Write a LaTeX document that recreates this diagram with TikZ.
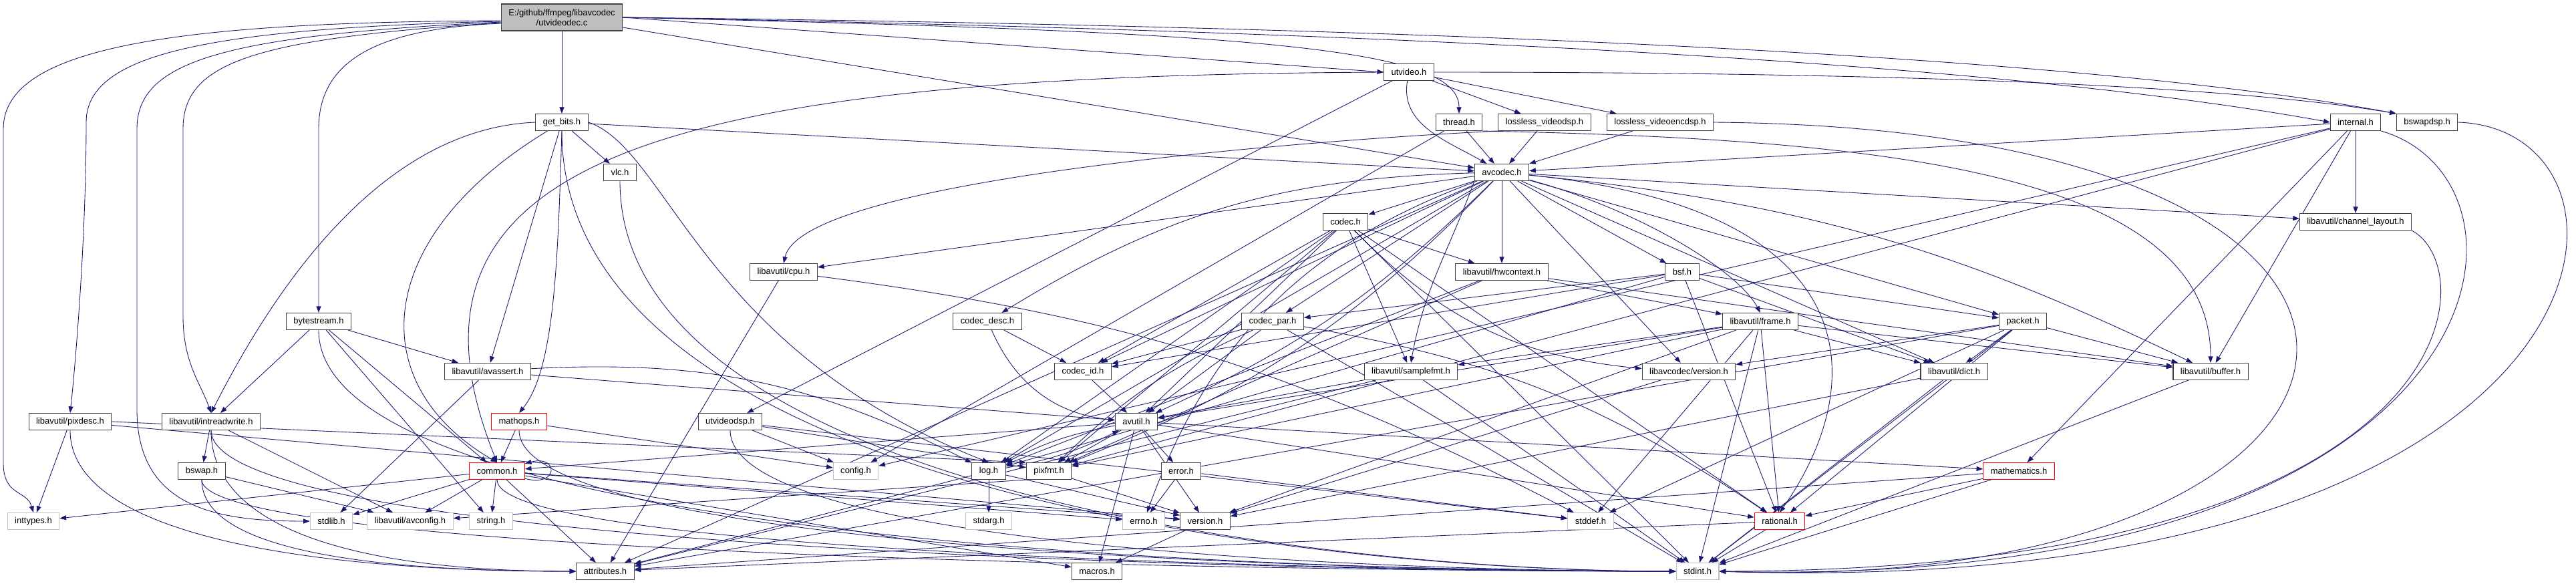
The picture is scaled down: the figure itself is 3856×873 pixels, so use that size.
\documentclass[tikz,border=0pt]{standalone}
\usepackage{fontspec}
\setmainfont{Liberation Sans}
\usepackage{tikz}
\usetikzlibrary{arrows.meta, backgrounds}
\definecolor{edgeblue}{RGB}{25,25,112}
\definecolor{boxgray}{RGB}{191,191,191}
\definecolor{boxline}{RGB}{64,64,64}

\begin{document}
\begin{tikzpicture}[
        x=0.02cm, y=0.02cm,
        box/.style={rectangle, draw=boxline, line width=0.6pt, fill=white, minimum height=0.5cm, inner xsep=0.22cm, inner ysep=0pt, font=\fontsize{7.4}{8.6}\selectfont},
        sysbox/.style={box, draw=boxgray},
        redbox/.style={box, draw=red},
        rootbox/.style={box, fill=boxgray, align=center, minimum height=0.8cm},
        arrow/.style={-{Triangle[length=5.5pt, width=4pt]}, draw=edgeblue, line width=0.5pt}
    ]
    \useasboundingbox (0,0) rectangle (3856,873);

    % files
    \node[rootbox] (utvideodec) at (841,847) {E:/github/ffmpeg/libavcodec\\/utvideodec.c};
    \node[box] (utvideo) at (2109,765) {utvideo.h};
    \node[box] (getbits) at (841,690) {get\_bits.h};
    \node[box] (thread) at (2184,690) {thread.h};
    \node[box] (llvidsp) at (2312,690) {lossless\_videodsp.h};
    \node[box] (llvidencdsp) at (2485,690) {lossless\_videoencdsp.h};
    \node[box] (internal) at (3526,690) {internal.h};
    \node[box] (bswapdsp) at (3633,690) {bswapdsp.h};
    \node[box] (vlc) at (928,615) {vlc.h};
    \node[box] (avcodec) at (2248,615) {avcodec.h};
    \node[box] (codec) at (2014,541) {codec.h};
    \node[box] (chlayout) at (3526,541) {libavutil/channel\_layout.h};
    \node[box] (cpu) at (1173,466) {libavutil/cpu.h};
    \node[box] (hwcontext) at (2248,466) {libavutil/hwcontext.h};
    \node[box] (bsf) at (2518,466) {bsf.h};
    \node[box] (bytestream) at (477,392) {bytestream.h};
    \node[box] (codecdesc) at (1478,392) {codec\_desc.h};
    \node[box] (codecpar) at (1905,392) {codec\_par.h};
    \node[box] (frame) at (2635,392) {libavutil/frame.h};
    \node[box] (packet) at (3028,392) {packet.h};
    \node[box] (avassert) at (730,317) {libavutil/avassert.h};
    \node[box] (codecid) at (1621,317) {codec\_id.h};
    \node[box] (samplefmt) at (2112,317) {libavutil/samplefmt.h};
    \node[box] (lavcversion) at (2528,317) {libavcodec/version.h};
    \node[box] (dict) at (2925,317) {libavutil/dict.h};
    \node[box] (buffer) at (3309,317) {libavutil/buffer.h};
    \node[box] (pixdesc) at (105,242) {libavutil/pixdesc.h};
    \node[box] (intreadwrite) at (316,242) {libavutil/intreadwrite.h};
    \node[redbox] (mathops) at (777,242) {mathops.h};
    \node[box] (utvideodsp) at (1093,242) {utvideodsp.h};
    \node[box] (avutil) at (1701,242) {avutil.h};
    \node[box] (bswap) at (302,168) {bswap.h};
    \node[redbox] (common) at (744,168) {common.h};
    \node[sysbox] (config) at (1281,168) {config.h};
    \node[box] (log) at (1480,168) {log.h};
    \node[box] (pixfmt) at (1570,168) {pixfmt.h};
    \node[box] (error) at (1768,168) {error.h};
    \node[redbox] (mathematics) at (3022,168) {mathematics.h};
    \node[sysbox] (inttypes) at (50,93) {inttypes.h};
    \node[sysbox] (stdlib) at (496,93) {stdlib.h};
    \node[sysbox] (avconfig) at (614,93) {libavutil/avconfig.h};
    \node[sysbox] (string) at (735,93) {string.h};
    \node[sysbox] (stdarg) at (1480,93) {stdarg.h};
    \node[sysbox] (errno) at (1712,93) {errno.h};
    \node[box] (version) at (1804,93) {version.h};
    \node[sysbox] (stddef) at (2381,93) {stddef.h};
    \node[redbox] (rational) at (2664,93) {rational.h};
    \node[box] (attributes) at (906,18) {attributes.h};
    \node[box] (macros) at (1642,18) {macros.h};
    \node[sysbox] (stdint) at (2541,18) {stdint.h};

    \begin{scope}[on background layer]
    % utvideodec.c
    \draw[arrow] ([yshift=-0.1cm]utvideodec.west) .. controls (250,840) and (5,800) .. (5,680) -- (5,180) .. controls (5,130) and (40,140) .. (inttypes.north);
    \draw[arrow] ([yshift=-0.12cm]utvideodec.west) .. controls (300,830) and (129,790) .. (129,690) .. controls (129,500) and (110,300) .. (pixdesc.north);
    \draw[arrow] ([yshift=-0.14cm]utvideodec.west) .. controls (330,820) and (205,780) .. (205,680) -- (205,260) .. controls (205,110) and (330,93) .. (stdlib.west);
    \draw[arrow] ([yshift=-0.16cm]utvideodec.west) .. controls (380,815) and (274,780) .. (274,680) -- (274,400) .. controls (274,330) and (300,300) .. (intreadwrite.north);
    \draw[arrow] ([yshift=-0.18cm]utvideodec.west) .. controls (560,830) and (477,780) .. (477,680) -- (bytestream.north);
    \draw[arrow] (utvideodec) -- (getbits);
    \draw[arrow] (utvideodec.east) -- (utvideo.west);
    \draw[arrow] (utvideodec.east) .. controls (1900,825) and (2184,800) .. (thread.north);
    \draw[arrow] (utvideodec) -- (avcodec);
    \draw[arrow] (utvideodec.east) .. controls (2400,820) and (3100,760) .. (internal.west);
    \draw[arrow] (utvideodec.east) .. controls (2400,830) and (3200,775) .. (bswapdsp.north west);

    % utvideo.h
    \draw[arrow] (utvideo.west) .. controls (1000,760) and (560,640) .. (common.north);
    \draw[arrow] (utvideo) to[out=-100, in=150] (avcodec);
    \draw[arrow] (utvideo.east) .. controls (3000,765) and (3400,735) .. (bswapdsp.north west);
    \draw[arrow] (utvideo) -- (utvideodsp);
    \draw[arrow] (utvideo) -- (llvidsp);
    \draw[arrow] (utvideo) -- (llvidencdsp);

    % get_bits.h
    \draw[arrow] (getbits) .. controls +(0,-560) and +(-500,0) .. (stdint.west);
    \draw[arrow] (getbits) .. controls (560,520) and (540,300) .. (common.north);
    \draw[arrow] (getbits.west) .. controls (560,680) and (400,420) .. (intreadwrite.north);
    \draw[arrow] (getbits.east) .. controls (1000,650) and (1050,350) .. (log.north);
    \draw[arrow] (getbits) -- (avassert);
    \draw[arrow] (getbits) -- (avcodec);
    \draw[arrow] (getbits.south) .. controls (835,480) and (830,320) .. (mathops.north);
    \draw[arrow] (getbits) -- (vlc);

    % thread.h, lossless_video*.h
    \draw[arrow] (thread) -- (avcodec);
    \draw[arrow] (thread.south east) .. controls (2800,665) and (3309,620) .. (buffer.north);
    \draw[arrow] (thread) -- (config);
    \draw[arrow] (llvidsp) -- (avcodec);
    \draw[arrow] (llvidsp.south west) .. controls (1900,660) and (1200,600) .. (cpu.north);
    \draw[arrow] (llvidencdsp) -- (avcodec);
    \draw[arrow] (llvidencdsp.east) .. controls (3800,680) and (3650,-20) .. (stdint.east);

    % internal.h, bswapdsp.h, vlc.h
    \draw[arrow] (internal) -- (chlayout);
    \draw[arrow] (internal) -- (avcodec);
    \draw[arrow] (internal) -- (buffer);
    \draw[arrow] (internal) -- (mathematics);
    \draw[arrow] (internal) -- (pixfmt);
    \draw[arrow] (internal) -- (config);
    \draw[arrow] (internal.south east) .. controls (3830,600) and (3760,-10) .. (stdint.east);
    \draw[arrow] (bswapdsp.east) .. controls (4000,680) and (3950,-25) .. (stdint.east);
    \draw[arrow] (vlc) .. controls +(0,-480) and +(-500,0) .. (stdint.west);

    % avcodec.h
    \draw[arrow] (avcodec) -- (codec);
    \draw[arrow] (avcodec) -- (hwcontext);
    \draw[arrow] (avcodec) -- (bsf);
    \draw[arrow] (avcodec) -- (chlayout);
    \draw[arrow] (avcodec) -- (cpu);
    \draw[arrow] (avcodec) to[bend right=15] (codecdesc);
    \draw[arrow] (avcodec) -- (codecpar);
    \draw[arrow] (avcodec) .. controls (2450,560) and (2600,470) .. (frame.north);
    \draw[arrow] (avcodec) -- (packet);
    \draw[arrow] (avcodec) -- (codecid);
    \draw[arrow] (avcodec.south west) to[out=-110, in=80] (samplefmt.north);
    \draw[arrow] (avcodec) -- (lavcversion);
    \draw[arrow] (avcodec) -- (dict);
    \draw[arrow] (avcodec) to[bend left=10] (buffer);
    \draw[arrow] (avcodec) to[bend left=10] (avutil);
    \draw[arrow] (avcodec) -- (log);
    \draw[arrow] (avcodec) to[bend left=12] (pixfmt);
    \draw[arrow] (avcodec) to[bend right=25] (errno);
    \draw[arrow] (avcodec) .. controls (2800,560) and (2800,300) .. (rational.north);
    \draw[arrow] (avcodec) -- (attributes);

    % codec.h
    \draw[arrow] (codec) -- (stdint);
    \draw[arrow] (codec) -- (avutil);
    \draw[arrow] (codec) -- (hwcontext);
    \draw[arrow] (codec) -- (log);
    \draw[arrow] (codec) -- (pixfmt);
    \draw[arrow] (codec) -- (rational);
    \draw[arrow] (codec) -- (samplefmt);
    \draw[arrow] (codec) -- (codecid);
    \draw[arrow] (codec) to[bend right=20] (lavcversion);

    % channel_layout.h, cpu.h, hwcontext.h, bsf.h
    \draw[arrow] (chlayout.south east) .. controls (3720,470) and (3700,20) .. (stdint.east);
    \draw[arrow] (cpu) -- (attributes);
    \draw[arrow] (cpu) to[bend left=10] (stddef);
    \draw[arrow] (hwcontext) -- (buffer);
    \draw[arrow] (hwcontext) -- (frame);
    \draw[arrow] (hwcontext) -- (log);
    \draw[arrow] (hwcontext) -- (pixfmt);
    \draw[arrow] (bsf) -- (dict);
    \draw[arrow] (bsf) -- (log);
    \draw[arrow] (bsf) -- (rational);
    \draw[arrow] (bsf) -- (codecid);
    \draw[arrow] (bsf) -- (codecpar);
    \draw[arrow] (bsf) -- (packet);

    % bytestream.h, codec_desc.h, codec_par.h
    \draw[arrow] (bytestream) .. controls +(0,-330) and +(-600,0) .. (stdint.west);
    \draw[arrow] (bytestream) -- (string);
    \draw[arrow] (bytestream) -- (avassert);
    \draw[arrow] (bytestream) -- (common);
    \draw[arrow] (bytestream) -- (intreadwrite);
    \draw[arrow] (codecdesc) to[bend right=30] (avutil);
    \draw[arrow] (codecdesc) -- (codecid);
    \draw[arrow] (codecpar) -- (stdint);
    \draw[arrow] (codecpar) -- (avutil);
    \draw[arrow] (codecpar) to[bend left=12] (rational);
    \draw[arrow] (codecpar) to[bend right=10] (pixfmt);
    \draw[arrow] (codecpar) -- (codecid);

    % frame.h, packet.h
    \draw[arrow] (frame) -- (stddef);
    \draw[arrow] (frame) -- (stdint);
    \draw[arrow] (frame) -- (avutil);
    \draw[arrow] (frame) -- (buffer);
    \draw[arrow] (frame) -- (dict);
    \draw[arrow] (frame) -- (rational);
    \draw[arrow] (frame) -- (samplefmt);
    \draw[arrow] (frame) -- (pixfmt);
    \draw[arrow] (frame) -- (version);
    \draw[arrow] (packet) -- (stddef);
    \draw[arrow] (packet) -- (stdint);
    \draw[arrow] (packet) -- (attributes);
    \draw[arrow] (packet) -- (buffer);
    \draw[arrow] (packet) -- (dict);
    \draw[arrow] (packet) -- (rational);
    \draw[arrow] (packet) -- (lavcversion);

    % avassert.h, codec_id.h, samplefmt.h, version/dict/buffer
    \draw[arrow] (avassert) -- (stdlib);
    \draw[arrow] (avassert) -- (avutil);
    \draw[arrow] (avassert) to[bend left=15] (log);
    \draw[arrow] (codecid) -- (avutil);
    \draw[arrow] (samplefmt) -- (stdint);
    \draw[arrow] (samplefmt) -- (avutil);
    \draw[arrow] (samplefmt) -- (attributes);
    \draw[arrow] (lavcversion) -- (version);
    \draw[arrow] (dict) -- (stdint);
    \draw[arrow] (dict) -- (version);
    \draw[arrow] (buffer) -- (stdint);

    % pixdesc.h, intreadwrite.h, mathops.h, utvideodsp.h
    \draw[arrow] (pixdesc) -- (inttypes);
    \draw[arrow] (pixdesc) .. controls +(0,-170) and +(-400,0) .. (attributes.west);
    \draw[arrow] (pixdesc.east) -- (pixfmt.north west);
    \draw[arrow] (pixdesc) -- (version);
    \draw[arrow] (intreadwrite) .. controls +(0,-190) and +(-600,0) .. (stdint.west);
    \draw[arrow] (intreadwrite) -- (avconfig);
    \draw[arrow] (intreadwrite) .. controls +(0,-170) and +(-300,0) .. (attributes.west);
    \draw[arrow] (intreadwrite) -- (bswap);
    \draw[arrow] (mathops) .. controls +(0,-190) and +(-500,0) .. (stdint.west);
    \draw[arrow] (mathops) -- (common);
    \draw[arrow] (mathops) -- (config);
    \draw[arrow] (utvideodsp) .. controls +(0,-190) and +(-400,0) .. (stdint.west);
    \draw[arrow] (utvideodsp) -- (stddef);
    \draw[arrow] (utvideodsp) -- (pixfmt);
    \draw[arrow] (utvideodsp) -- (config);

    % avutil.h, log.h, pixfmt.h, error.h
    \draw[arrow] (avutil) -- (common);
    \draw[arrow] (avutil) -- (error);
    \draw[arrow] (avutil) -- (rational);
    \draw[arrow] (avutil) -- (version);
    \draw[arrow] (avutil) -- (macros);
    \draw[arrow] (avutil) -- (mathematics);
    \draw[arrow] (avutil) to[bend right=8] (log);
    \draw[arrow] (avutil) -- (pixfmt);
    \draw[arrow] (log) -- (stdarg);
    \draw[arrow] (log) to[bend right=8] (avutil);
    \draw[arrow] (log) -- (attributes);
    \draw[arrow] (log) -- (version);
    \draw[arrow] (pixfmt.south west) -- (avconfig);
    \draw[arrow] (pixfmt) -- (version);
    \draw[arrow] (error) -- (errno);
    \draw[arrow] (error) -- (stddef);

    % bswap.h, common.h
    \draw[arrow] (bswap) .. controls +(0,-125) and +(-600,0) .. (stdint.west);
    \draw[arrow] (bswap) -- (avconfig);
    \draw[arrow] (bswap) .. controls +(0,-120) and +(-300,0) .. (attributes.west);
    \draw[arrow] (common) -- (inttypes);
    \draw[arrow] (common) -- (stdlib);
    \draw[arrow] (common) -- (avconfig);
    \draw[arrow] (common) -- (string);
    \draw[arrow] (common) -- (attributes);
    \draw[arrow] (common) -- (errno);
    \draw[arrow] (common) -- (version);
    \draw[arrow] (common) -- (macros);
    \draw[arrow] (common) .. controls +(0,-120) and +(-500,0) .. (stdint.west);
    \draw[arrow] (common) to[out=-15, in=15, looseness=6, min distance=0.5cm] (common);

    % mathematics.h, rational.h, version.h
    \draw[arrow] (mathematics) -- (stdint);
    \draw[arrow] (mathematics) -- (attributes);
    \draw[arrow] (mathematics) -- (rational);
    \draw[arrow] (rational) -- (stdint);
    \draw[arrow] (rational) -- (attributes);
    \draw[arrow] (version) -- (macros);
    \end{scope}
\end{tikzpicture}
\end{document}
